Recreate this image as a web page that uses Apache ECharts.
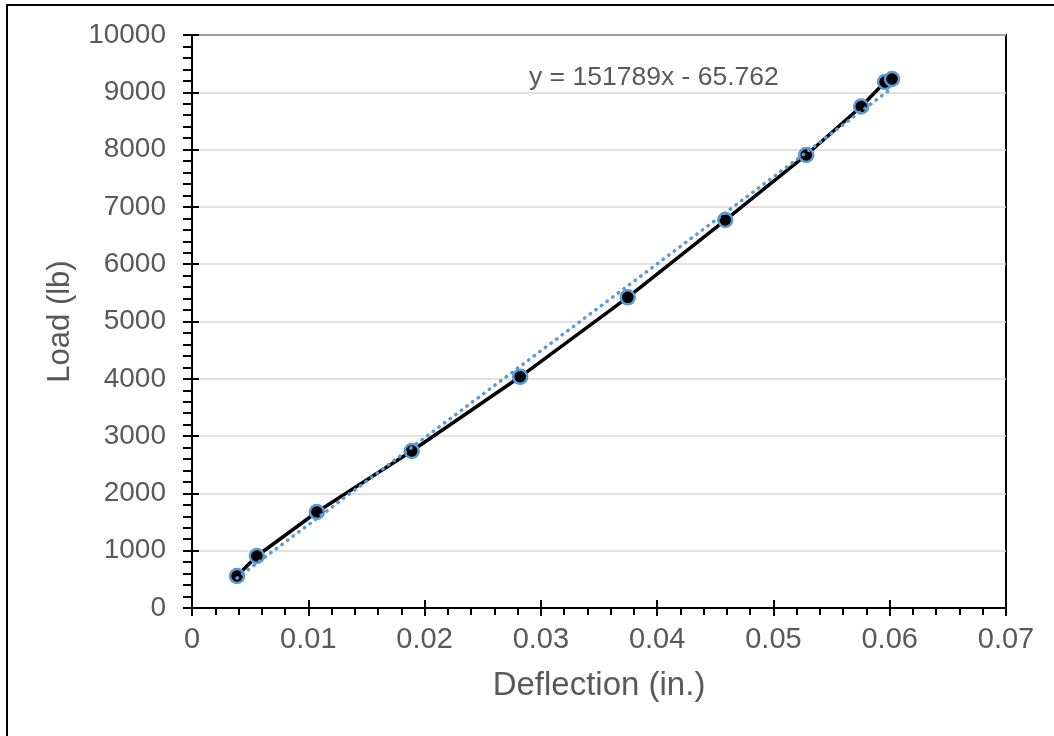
<!DOCTYPE html>
<html>
<head>
<meta charset="utf-8">
<script src="https://cdn.jsdelivr.net/npm/echarts@6/dist/echarts.min.js"></script>
<style>
html,body{margin:0;padding:0;background:#fff;}
#chart{width:1054px;height:736px;}
</style>
</head>
<body>
<div id="chart"></div>
<script>
// Data
var deflection = [0.00387, 0.00558, 0.01074, 0.01890, 0.02822, 0.03747, 0.04586, 0.05282, 0.05755, 0.0596, 0.0602];
var load = [558, 907, 1675, 2740, 4035, 5422, 6771, 7906, 8752, 9180, 9232];
var xTicks = { min: 0, max: 0.07, interval: 0.01 };
var yTicks = { min: 0, max: 10000, interval: 1000 };
var trendSlope = 151789;
var trendIntercept = -65.762;
var trendLabel = 'y = 151789x - 65.762';
var xTitle = 'Deflection (in.)';
var yTitle = 'Load (lb)';

var points = deflection.map(function (d, i) { return [d, load[i]]; });
var xMinD = Math.min.apply(null, deflection), xMaxD = Math.max.apply(null, deflection);
var trend = [[xMinD, trendSlope * xMinD + trendIntercept], [xMaxD, trendSlope * xMaxD + trendIntercept]];

var font = '"Liberation Sans", Arial, sans-serif';
var grey = '#595959';
var chart = echarts.init(document.getElementById('chart'), null, { renderer: 'canvas' });
chart.setOption({
  animation: false,
  backgroundColor: '#fff',
  grid: { left: 192, right: 48, top: 35, bottom: 128, show: true, borderColor: '#000', borderWidth: 2, backgroundColor: 'transparent' },
  graphic: [{
    type: 'rect', silent: true, z: 100,
    shape: { x: 7, y: 5, width: 1100, height: 800 },
    style: { fill: 'none', stroke: '#000', lineWidth: 2 }
  }, {
    type: 'text', left: 529, top: 64, z: 100,
    style: { text: trendLabel, font: '26.5px ' + font, fill: grey }
  }],
  xAxis: [{
    type: 'value', min: xTicks.min, max: xTicks.max, interval: xTicks.interval,
    position: 'bottom',
    name: xTitle, nameLocation: 'middle', nameGap: 61,
    nameTextStyle: { fontFamily: font, fontSize: 33, color: grey },
    axisLine: { show: true, onZero: false, lineStyle: { color: '#000', width: 2 } },
    axisTick: { show: true, inside: false, length: 8, lineStyle: { color: '#000', width: 2 } },
    minorTick: { show: true, splitNumber: 5, length: 7, lineStyle: { color: '#000', width: 2 } },
    splitLine: { show: false },
    axisLabel: { fontFamily: font, fontSize: 29, color: grey, margin: 17,
      formatter: function (v) { return String(Number(v.toFixed(2))); } }
  }, {
    type: 'value', min: xTicks.min, max: xTicks.max, interval: xTicks.interval,
    position: 'bottom', offset: 0,
    axisLine: { show: false },
    axisTick: { show: true, inside: true, length: 8, lineStyle: { color: '#000', width: 2 } },
    splitLine: { show: false },
    axisLabel: { show: false }
  }],
  yAxis: [{
    type: 'value', min: yTicks.min, max: yTicks.max, interval: yTicks.interval,
    position: 'left',
    name: yTitle, nameLocation: 'middle', nameGap: 116, nameRotate: 90,
    nameTextStyle: { fontFamily: font, fontSize: 31, color: grey },
    axisLine: { show: true, onZero: false, lineStyle: { color: '#000', width: 2 } },
    axisTick: { show: true, inside: false, length: 9, lineStyle: { color: '#000', width: 2 } },
    minorTick: { show: true, splitNumber: 5, length: 9, lineStyle: { color: '#000', width: 2 } },
    splitLine: { show: true, lineStyle: { color: '#D9D9D9', width: 1.5 } },
    axisLabel: { fontFamily: font, fontSize: 28, color: grey, margin: 26,
      formatter: function (v) { return String(v); } }
  }, {
    type: 'value', min: yTicks.min, max: yTicks.max, interval: yTicks.interval,
    position: 'left', offset: 0,
    axisLine: { show: false },
    axisTick: { show: true, inside: true, length: 7, lineStyle: { color: '#000', width: 2 } },
    splitLine: { show: false },
    axisLabel: { show: false }
  }],
  series: [{
    type: 'line', name: 'Load', data: points, xAxisIndex: 0, yAxisIndex: 0,
    symbol: 'circle', symbolSize: 14,
    lineStyle: { color: '#000', width: 3.5 },
    itemStyle: { color: '#000', borderColor: '#5B9BD5', borderWidth: 2.5 },
    z: 3
  }, {
    type: 'line', name: 'Linear', data: trend, xAxisIndex: 0, yAxisIndex: 0,
    symbol: 'none',
    lineStyle: { color: '#5B9BD5', width: 3.5, type: [0.5, 6.5], cap: 'round' },
    z: 4
  }]
});
</script>
</body>
</html>
